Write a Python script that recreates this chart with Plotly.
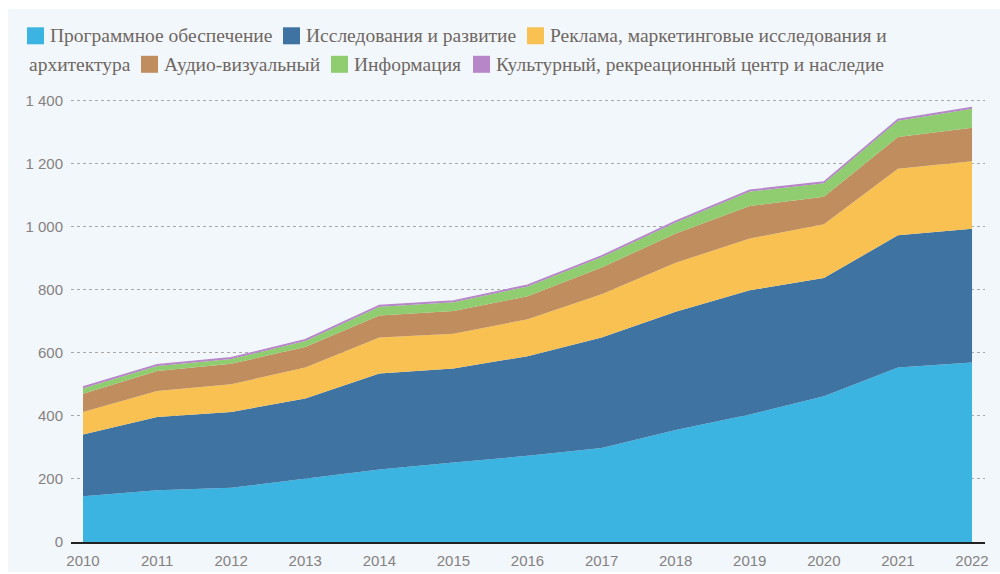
import plotly.graph_objects as go

years = list(range(2010, 2023))
software = [145, 164, 172, 200, 230, 252, 273, 298, 355, 404, 462, 553, 569]
research = [196, 232, 240, 255, 304, 298, 316, 350, 375, 394, 375, 419, 424]
advert = [71, 83, 88, 98, 114, 110, 117, 137, 155, 164, 170, 211, 214]
audio = [58, 63, 65, 65, 70, 72, 73, 85, 93, 103, 87, 101, 106]
info = [17, 16, 15, 19, 28, 28, 31, 33, 35, 46, 43, 51, 60]
culture = [4, 4, 4, 4, 4, 4, 4, 4, 4, 4, 4, 4, 4]

names = [
    "Программное обеспечение",
    "Исследования и развитие",
    "Реклама, маркетинговые исследования и архитектура",
    "Аудио-визуальный",
    "Информация",
    "Культурный, рекреационный центр и наследие",
]
colors = ["#3bb4e1", "#3e73a2", "#f9c151", "#c08e5e", "#90cc70", "#b686c9"]
series = [software, research, advert, audio, info, culture]

BG = "#f2f7fc"
W, H = 1000, 574
ML, MR, MT, MB = 71, 15, 94, 32
PW = W - ML - MR
PH = H - MT - MB


def px(x):
    return (x - ML) / PW


def py(y):
    return (H - MB - y) / PH


fig = go.Figure()
for i, (nm, col, vals) in enumerate(zip(names, colors, series)):
    last = i == len(series) - 1
    fig.add_trace(go.Scatter(
        x=years, y=vals, name=nm, mode="lines", stackgroup="one",
        fillcolor=col,
        line=dict(width=1.5 if last else 0, color=col),
        showlegend=False,
    ))

shapes = [dict(type="rect", xref="paper", yref="paper", layer="below",
               x0=px(8), x1=px(1002), y0=py(572), y1=py(9),
               fillcolor=BG, line=dict(width=0))]
annotations = []

legend_font = dict(family="Liberation Serif, Times New Roman, serif", size=19.5, color="#6f6762")
row1, row2 = 35.8, 64.3
# (square x, text x, row y, text, colour or None)
items = [
    (27, 48, row1, "Программное обеспечение", colors[0]),
    (283, 304, row1, "Исследования и развитие", colors[1]),
    (527, 548, row1, "Реклама, маркетинговые исследования и", colors[2]),
    (None, 27, row2, "архитектура", None),
    (141, 162, row2, "Аудио-визуальный", colors[3]),
    (331, 352, row2, "Информация", colors[4]),
    (473, 494, row2, "Культурный, рекреационный центр и наследие", colors[5]),
]
for sx, tx, ry, txt, col in items:
    if sx is not None:
        shapes.append(dict(type="rect", xref="paper", yref="paper",
                           x0=px(sx), x1=px(sx + 17), y0=py(ry + 8.5), y1=py(ry - 8.5),
                           fillcolor=col, line=dict(width=0)))
    annotations.append(dict(xref="paper", yref="paper", x=px(tx), y=py(ry),
                            xanchor="left", yanchor="middle", text=txt,
                            showarrow=False, font=legend_font))

tick_font = dict(family="Liberation Sans, Arial, sans-serif", size=15, color="#858180")

fig.update_layout(
    width=W, height=H,
    margin=dict(l=ML, r=MR, t=MT, b=MB, autoexpand=False),
    paper_bgcolor="white",
    plot_bgcolor=BG,
    separators=", ",
    shapes=shapes,
    annotations=annotations,
    showlegend=False,
    xaxis=dict(
        range=[2009.838, 2022.175], tickvals=years, ticktext=[str(y) for y in years],
        showgrid=False, zeroline=False, showline=True, linecolor="#222222", linewidth=2,
        ticks="", tickfont=tick_font, fixedrange=True, ticklabelstandoff=4,
        automargin=False,
    ),
    yaxis=dict(
        range=[0, 1420], tickvals=[0, 200, 400, 600, 800, 1000, 1200, 1400],
        separatethousands=True, tickformat=",d",
        showgrid=True, gridcolor="#a8a8a8", griddash="dot", gridwidth=1,
        zeroline=False, showline=False, ticks="", tickfont=tick_font,
        ticklabelstandoff=7, automargin=False,
    ),
)

fig.write_html("out.html")
